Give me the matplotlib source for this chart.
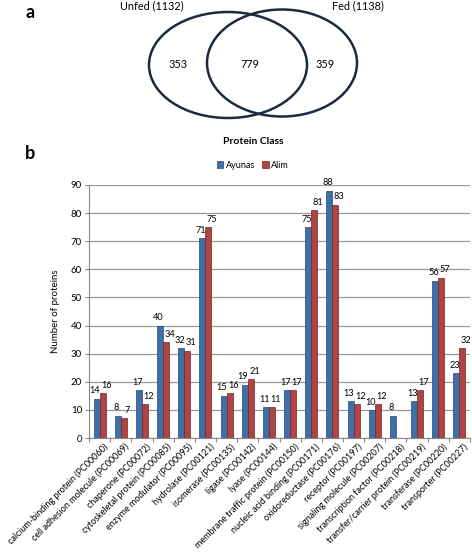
import matplotlib
matplotlib.use("Agg")
import matplotlib.pyplot as plt
from matplotlib.patches import Ellipse
import matplotlib.transforms as mtransforms
import numpy as np

plt.rcParams['font.family'] = ['Lato', 'DejaVu Sans']

# Venn data
venn_labels = ["Unfed (1132)", "Fed (1138)"]
venn_counts = [353, 779, 359]

# Bar data
categories = [
    "calcium-binding protein (PC00060)",
    "cell adhesion molecule (PC00069)",
    "chaperone (PC00072)",
    "cytoskeletal protein (PC00085)",
    "enzyme modulator (PC00095)",
    "hydrolase (PC00121)",
    "isomerase (PC00135)",
    "ligase (PC00142)",
    "lyase (PC00144)",
    "membrane traffic protein (PC00150)",
    "nucleic acid binding (PC00171)",
    "oxidoreductase (PC00176)",
    "receptor (PC00197)",
    "signaling molecule (PC00207)",
    "transcription factor (PC00218)",
    "transfer/carrier protein (PC00219)",
    "transferase (PC00220)",
    "transporter (PC00227)",
]
ayunas = [14, 8, 17, 40, 32, 71, 15, 19, 11, 17, 75, 88, 13, 10, 8, 13, 56, 23]
alim = [16, 7, 12, 34, 31, 75, 16, 21, 11, 17, 81, 83, 12, 12, np.nan, 17, 57, 32]
series_names = ["Ayunas", "Alim"]

W, H = 472, 557
fig = plt.figure(figsize=(W / 100, H / 100), dpi=100)

# ---- Panel a: Venn ----
vh = 135
axv = fig.add_axes([0, 1 - vh / H, 1, vh / H])
axv.set_xlim(0, W)
axv.set_ylim(vh, 0)
axv.axis('off')
axv.add_patch(Ellipse((228, 65), 158, 106, fill=False, edgecolor='#1c2a3e', lw=1.8))
axv.add_patch(Ellipse((282, 63), 150, 107, fill=False, edgecolor='#1c2a3e', lw=1.8))
axv.text(152, 6, venn_labels[0], ha='center', va='center', fontsize=7.8)
axv.text(358, 6, venn_labels[1], ha='center', va='center', fontsize=7.8)
for xv, c in zip([178, 250, 325], venn_counts):
    axv.text(xv, 64, str(c), ha='center', va='center', fontsize=7.8)
axv.text(30, 12, "a", ha='center', va='center', fontsize=13, fontweight='bold')

# Panel b header
fig.text(30 / W, 1 - 153 / H, "b", ha='center', va='center', fontsize=13, fontweight='bold')
fig.text(253 / W, 1 - 141 / H, "Protein Class", ha='center', va='center', fontsize=7.5, fontweight='bold')

# ---- Panel b: bars ----
x0, x1 = 89, 470
y0, y1 = 438, 185
ax = fig.add_axes([x0 / W, 1 - y0 / H, (x1 - x0) / W, (y0 - y1) / H])
n = len(categories)
x = np.arange(n)
bw = 0.28
blue, blue_e = '#3f6fa8', '#27476f'
red, red_e = '#b04442', '#6e2625'
b1 = ax.bar(x - bw / 2, ayunas, bw, color=blue, edgecolor=blue_e, linewidth=0.5, label=series_names[0], zorder=3)
b2 = ax.bar(x + bw / 2, alim, bw, color=red, edgecolor=red_e, linewidth=0.5, label=series_names[1], zorder=3)
for xi, v in zip(x, ayunas):
    if not np.isnan(v):
        ax.text(xi - bw / 2 - 0.08, v + 1.2, f"{int(v)}", ha='center', va='bottom', fontsize=6.6)
for xi, v in zip(x, alim):
    if not np.isnan(v):
        ax.text(xi + bw / 2 + 0.18, v + 1.2, f"{int(v)}", ha='center', va='bottom', fontsize=6.6)

ax.set_xlim(-0.5, n - 0.5)
ax.set_ylim(0, 90)
ax.set_yticks(range(0, 91, 10))
ax.yaxis.grid(True, color='#999999', linewidth=0.9, zorder=0)
ax.set_axisbelow(True)
for s in ['top', 'right']:
    ax.spines[s].set_visible(False)
ax.spines['left'].set_color('#888888')
ax.spines['bottom'].set_color('#888888')
ax.tick_params(axis='y', labelsize=7, length=3, color='#888888', pad=2)
ax.set_xticks(np.arange(-0.5, n, 1), minor=False)
ax.set_xticklabels([])
ax.set_xticks(x, minor=True)
ax.set_xticklabels(categories, minor=True, rotation=45, ha='right', rotation_mode='anchor', fontsize=6.5)
ax.tick_params(axis='x', which='minor', length=0, pad=3)
ax.tick_params(axis='x', which='major', length=3, color='#888888')
offset = mtransforms.ScaledTranslation(4 / 100, 0, fig.dpi_scale_trans)
for lab in ax.get_xticklabels(minor=True):
    lab.set_transform(lab.get_transform() + offset)
ax.set_ylabel("Number of proteins", fontsize=7, labelpad=8)

leg = fig.legend(handles=[b1, b2], labels=series_names, loc='center', bbox_to_anchor=(253 / W, 1 - 165 / H),
                 ncol=2, frameon=False, fontsize=6.5, handlelength=0.7, handleheight=0.7,
                 handletextpad=0.3, columnspacing=0.8)

fig.savefig("out.png", dpi=100)
